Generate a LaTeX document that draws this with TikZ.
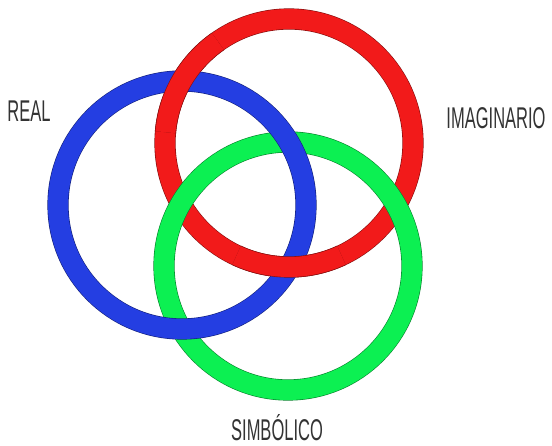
\documentclass[tikz,border=0pt]{standalone}
\usepackage{fontspec}
\setmainfont{Liberation Sans}
\usepackage{tikz}
\usetikzlibrary{positioning, calc}

\definecolor{ringred}{RGB}{242,26,26}
\definecolor{ringblue}{RGB}{36,62,226}
\definecolor{ringgreen}{RGB}{12,240,82}

\newcommand{\narrowlabel}[1]{\scalebox{0.55}[1]{#1}}

\begin{document}
\begin{tikzpicture}[
			x=1pt, y=-1pt,
			ring/.style={draw=#1!55!black, double=#1, double distance=20pt, line width=0.6pt},
			tag/.style={anchor=base, inner sep=0pt, text=black!80, font=\fontsize{30}{30}\selectfont}
			]
			\useasboundingbox (0,0) rectangle (552,446);
			
			% Ring centres
			\coordinate (real) at (182,205);
			\coordinate (imag) at (289,143);
			\coordinate (simb) at (288,266);
			
			% Full rings (green over red, blue over green)
			\draw [ring=ringred] (imag) circle [radius=124];
			\draw [ring=ringgreen] (simb) circle [radius=124];
			\draw [ring=ringblue] (real) circle [radius=124];
			
			% Red back over blue at both crossings
			\draw [ring=ringred] ($(imag)+(185:124)$) arc [start angle=185, end angle=235, radius=124];
			\draw [ring=ringred] ($(imag)+(65:124)$) arc [start angle=65, end angle=115, radius=124];
			
			% Labels
			\node (reallabel) [tag] at (29,122) {\narrowlabel{REAL}};
			\node (imaglabel) [tag] at (496,129) {\narrowlabel{IMAGINARIO}};
			\node (simblabel) [tag] at (277,440) {\narrowlabel{SIMBÓLICO}};
		\end{tikzpicture}
\end{document}
